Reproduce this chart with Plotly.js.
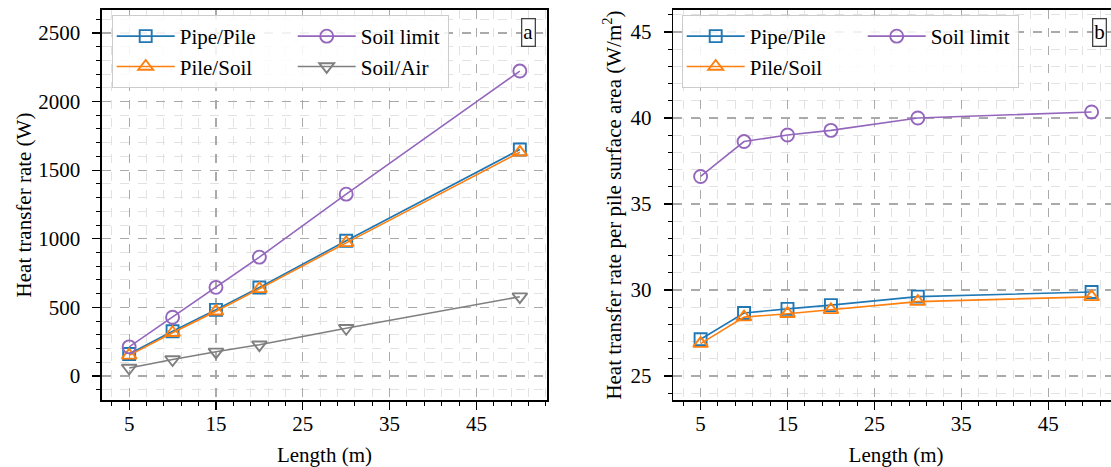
<!DOCTYPE html>
<html>
<head>
<meta charset="utf-8">
<script src="https://cdn.plot.ly/plotly-3.0.1.min.js"></script>
<style>
html, body { margin: 0; padding: 0; overflow: hidden; background: #fff; }
#chart { width: 1120px; height: 467px; }
</style>
</head>
<body>
<div id="chart"></div>
<script>
// ---- data ----
const lengths = [5, 10, 15, 20, 30, 50];

// panel a: heat transfer rate (W)
const pipePileW  = [160, 326, 482, 645, 985, 1650];
const pileSoilW  = [150, 315, 472, 635, 970, 1630];
const soilLimitW = [212, 428, 646, 866, 1325, 2222];
const soilAirW   = [58, 120, 176, 228, 348, 578];

// panel b: heat transfer rate per pile surface area (W/m2)
const pipePileA  = [27.13, 28.66, 28.9, 29.12, 29.61, 29.88];
const pileSoilA  = [26.88, 28.42, 28.62, 28.84, 29.32, 29.6];
const soilLimitA = [36.6, 38.63, 39.01, 39.28, 40.0, 40.35];

const xTickVals = [5, 15, 25, 35, 45];

// ---- styling ----
const FONT = "Liberation Serif";
const C = { blue: "#1f77b4", orange: "#ff7f0e", purple: "#9467bd", gray: "#7f7f7f" };

function tr(name, y, color, symbol, size, xa, ya, leg, group, lw) {
  return {
    type: "scatter", mode: "lines+markers", name: name,
    x: lengths, y: y, xaxis: xa, yaxis: ya,
    legend: leg, legendgroup: group, legendwidth: lw,
    line: { color: color, width: 1.6 },
    marker: { symbol: symbol, size: size, color: color, line: { color: color, width: 1.9 } }
  };
}

const COL1 = 108, COL2 = 82;
const data = [
  tr("Pipe/Pile", pipePileW, C.blue, "square-open", 12, "x", "y", "legend", "a1", COL1),
  tr("Pile/Soil", pileSoilW, C.orange, "triangle-up-open", 13, "x", "y", "legend", "a1", COL1),
  tr("Soil limit", soilLimitW, C.purple, "circle-open", 13, "x", "y", "legend", "a2", COL2),
  tr("Soil/Air", soilAirW, C.gray, "triangle-down-open", 13, "x", "y", "legend", "a2", COL2),
  tr("Pipe/Pile", pipePileA, C.blue, "square-open", 12, "x2", "y2", "legend2", "b1", COL1),
  tr("Pile/Soil", pileSoilA, C.orange, "triangle-up-open", 13, "x2", "y2", "legend2", "b1", COL1),
  tr("Soil limit", soilLimitA, C.purple, "circle-open", 13, "x2", "y2", "legend2", "b2", COL2)
];

const TXT = { family: FONT, size: 21, color: "#000" };

function xaxisDef(domain, anchor) {
  return {
    domain: domain, anchor: anchor, range: [1.87, 53.13],
    tickmode: "array", tickvals: xTickVals,
    ticks: "outside", ticklen: 8, tickwidth: 1.2, tickcolor: "#000",
    ticklabelstandoff: -4,
    showline: true, linecolor: "#000", linewidth: 1.6, mirror: true,
    showgrid: true, gridcolor: "#aaaaaa", griddash: "dash", gridwidth: 1.2,
    zeroline: false,
    minor: { dtick: 2, tick0: 1, ticks: "outside", ticklen: 4, tickwidth: 1, tickcolor: "#000",
             showgrid: true, gridcolor: "#e2e2e2", griddash: "dash", gridwidth: 1 },
    tickfont: TXT,
    title: { text: "Length (m)", font: TXT, standoff: 13 }
  };
}
function yaxisDef(domain, anchor, range, dtick, mdtick, title) {
  return {
    domain: domain, anchor: anchor, range: range,
    dtick: dtick, tick0: 0,
    ticks: "outside", ticklen: 8, tickwidth: 1.2, tickcolor: "#000",
    ticklabelstandoff: 8,
    showline: true, linecolor: "#000", linewidth: 1.6, mirror: true,
    showgrid: true, gridcolor: "#aaaaaa", griddash: "dash", gridwidth: 1.2,
    zeroline: false,
    minor: { dtick: mdtick, ticks: "outside", ticklen: 4, tickwidth: 1, tickcolor: "#000",
             showgrid: true, gridcolor: "#e2e2e2", griddash: "dash", gridwidth: 1 },
    tickfont: TXT,
    title: { text: title, font: TXT }
  };
}

const W = 1120, H = 467;
const yDom = [(H - 400) / H, (H - 10) / H];

function legendDef(x) {
  return {
    x: x, y: (H - 15) / H, xanchor: "left", yanchor: "top",
    orientation: "h", traceorder: "grouped", tracegroupgap: 0,
    itemwidth: 58,
    bgcolor: "rgba(255,255,255,0.85)", bordercolor: "#cccccc", borderwidth: 1,
    font: TXT
  };
}

function tag(text, xpx) {
  return { text: text, xref: "paper", yref: "paper", x: xpx / W, y: 1 - 33 / H,
    xanchor: "center", yanchor: "middle", showarrow: false,
    font: TXT, bordercolor: "#444", borderwidth: 1.3, borderpad: 1, bgcolor: "#fff" };
}

const layout = {
  width: W, height: H,
  margin: { l: 0, r: 0, t: 0, b: 0 },
  paper_bgcolor: "#fff", plot_bgcolor: "#fff",
  font: TXT,
  xaxis: xaxisDef([102 / W, 547 / W], "y"),
  yaxis: yaxisDef(yDom, "x", [-175, 2667], 500, 100, "Heat transfer rate (W)"),
  xaxis2: xaxisDef([673.4 / W, 1118.8 / W], "y2"),
  yaxis2: yaxisDef(yDom, "x2", [23.6, 46.28], 5, 1, "Heat transfer rate per pile surface area (W/m<sup>2</sup>)"),
  legend: legendDef(111.7 / W),
  legend2: legendDef(681.7 / W),
  showlegend: true,
  annotations: [tag("a", 528), tag("b", 1099)]
};

Plotly.newPlot("chart", data, layout, { displayModeBar: false, staticPlot: true });
</script>
</body>
</html>
